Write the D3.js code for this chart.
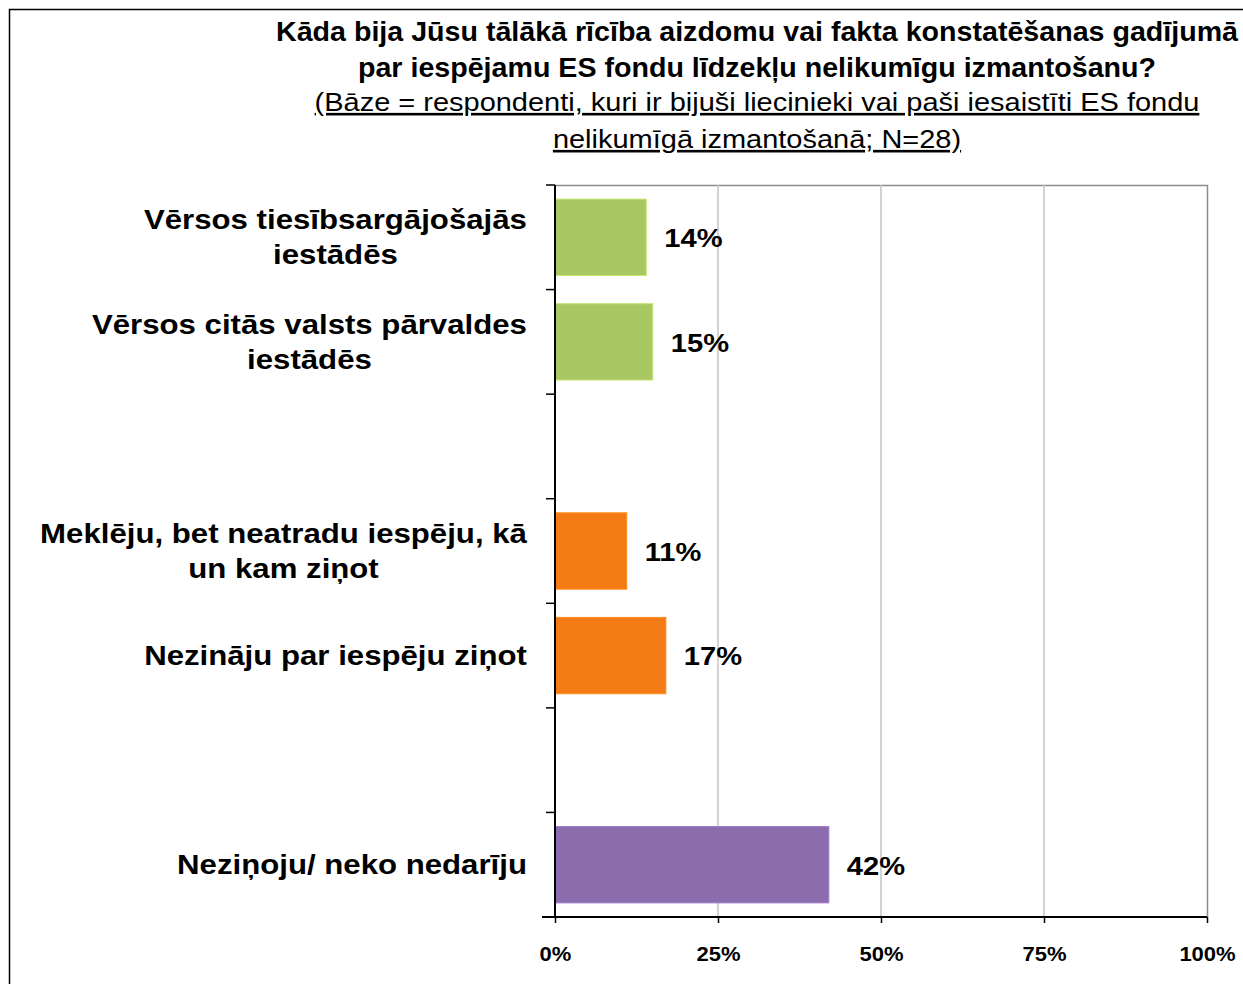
<!DOCTYPE html>
<html>
<head>
<meta charset="utf-8">
<script src="https://cdn.jsdelivr.net/npm/d3@7"></script>
<style>
  html, body { margin: 0; padding: 0; background: #fff; }
  svg { display: block; font-family: "Liberation Sans", Arial, sans-serif; }
</style>
</head>
<body>
<svg id="chart" width="1243" height="984"></svg>
<script>
// Answers in display order; null marks an empty spacer row between groups.
const categories = [
  "Vērsos tiesībsargājošajās\niestādēs",
  "Vērsos citās valsts pārvaldes\niestādēs",
  null,
  "Meklēju, bet neatradu iespēju, kā\nun kam ziņot",
  "Nezināju par iespēju ziņot",
  null,
  "Neziņoju/ neko nedarīju"
];
const values = [14, 15, null, 11, 17, null, 42];
const groups = ["report", "report", null, "blocked", "blocked", null, "none"];
const groupColors = { report: "#a9c864", blocked: "#f37a14", none: "#8b6cad" };
const xTicks = [0, 25, 50, 75, 100];

const titleLines = [
  "Kāda bija Jūsu tālākā rīcība aizdomu vai fakta konstatēšanas gadījumā",
  "par iespējamu ES fondu līdzekļu nelikumīgu izmantošanu?"
];
const subtitleLines = [
  "(Bāze = respondenti, kuri ir bijuši liecinieki vai paši iesaistīti  ES fondu",
  "nelikumīgā izmantošanā; N=28)"
];

const svg = d3.select("#chart");
const plot = { left: 555, right: 1207, top: 185, bottom: 917 };

// Wide-set type: glyphs are stretched horizontally by this factor
const stretch = { title: 1.06, subtitle: 1.115, label: 1.155, value: 1.12, tick: 1.1 };
const placed = (px, py, sx) => `translate(${px},${py}) scale(${sx},1)`;

// Outer frame (runs off the right and bottom edges)
svg.append("rect")
  .attr("x", 9.5).attr("y", 9.5)
  .attr("width", 1400).attr("height", 1200)
  .attr("fill", "none").attr("stroke", "#000").attr("stroke-width", 1.5);

// Title block
const titleX = 757;
svg.append("g").selectAll("text").data(titleLines).join("text")
  .attr("transform", (d, i) => placed(titleX, 41 + i * 36, stretch.title))
  .attr("text-anchor", "middle")
  .attr("font-size", 27).attr("font-weight", "bold").attr("fill", "#000")
  .text(d => d);
svg.append("g").selectAll("text").data(subtitleLines).join("text")
  .attr("transform", (d, i) => placed(titleX, 111 + i * 37, stretch.subtitle))
  .attr("text-anchor", "middle")
  .attr("font-size", 26).attr("fill", "#000")
  .attr("text-decoration", "underline")
  .text(d => d);

// Scales
const x = d3.scaleLinear().domain([0, 100]).range([plot.left, plot.right]);
const y = d3.scaleBand()
  .domain(d3.range(categories.length))
  .range([plot.top, plot.bottom])
  .paddingInner(0.27).paddingOuter(0.135);

// Plot-area border (top/right) and vertical gridlines
svg.append("path")
  .attr("d", `M${plot.left},${plot.top + 0.5}H${plot.right + 0.5}V${plot.bottom}`)
  .attr("fill", "none").attr("stroke", "#8c8c8c").attr("stroke-width", 1.5);
svg.append("g").selectAll("line").data(xTicks.slice(1, -1)).join("line")
  .attr("x1", d => x(d)).attr("x2", d => x(d))
  .attr("y1", plot.top).attr("y2", plot.bottom)
  .attr("stroke", "#c4c4c4").attr("stroke-width", 1.5);

// Bars
const rows = categories.map((c, i) => ({ i, c, v: values[i], g: groups[i] }))
  .filter(d => d.v != null);
svg.append("g").selectAll("rect").data(rows).join("rect")
  .attr("x", x(0)).attr("y", d => y(d.i))
  .attr("width", d => x(d.v) - x(0)).attr("height", y.bandwidth())
  .attr("fill", d => groupColors[d.g])
  .attr("stroke", d => d3.color(groupColors[d.g]).brighter(0.4))
  .attr("stroke-width", 1);

// Value labels
svg.append("g").selectAll("text").data(rows).join("text")
  .attr("transform", d => placed(x(d.v) + 18, y(d.i) + y.bandwidth() / 2, stretch.value))
  .attr("dy", "0.38em")
  .attr("font-size", 26).attr("font-weight", "bold").attr("fill", "#000")
  .text(d => d.v + "%");

// Category axis: ticks at the row boundaries
const slotStep = y.step();
const boundaries = d3.range(categories.length + 1).map(k => plot.top + k * slotStep);
const yAxis = svg.append("g");
yAxis.append("line")
  .attr("x1", plot.left).attr("x2", plot.left)
  .attr("y1", plot.top).attr("y2", plot.bottom)
  .attr("stroke", "#000").attr("stroke-width", 2);
yAxis.selectAll("line.tick").data(boundaries).join("line")
  .attr("class", "tick")
  .attr("x1", plot.left - 9).attr("x2", plot.left)
  .attr("y1", d => d).attr("y2", d => d)
  .attr("stroke", "#000").attr("stroke-width", 1.5);

// Category labels: right-aligned block, lines centred within it
const labelRight = 527;
const labelRows = categories.map((c, i) => ({ i, c })).filter(d => d.c);
labelRows.forEach(d => {
  const lines = d.c.split("\n");
  const g = svg.append("g");
  const texts = g.selectAll("text").data(lines).join("text")
    .attr("dy", "0.35em")
    .attr("font-size", 27).attr("font-weight", "bold").attr("fill", "#000")
    .attr("text-anchor", "middle")
    .text(l => l);
  const widest = d3.max(texts.nodes(), n => n.getComputedTextLength()) * stretch.label;
  const cx = labelRight - widest / 2;
  texts.attr("transform", (l, k) => placed(cx,
    y(d.i) + y.bandwidth() / 2 + (k - (lines.length - 1) / 2) * 35, stretch.label));
});

// Value axis
const xAxis = svg.append("g").attr("transform", `translate(0,${plot.bottom})`)
  .call(d3.axisBottom(x).tickValues(xTicks).tickSize(6).tickPadding(24)
    .tickFormat(d => d + "%"));
xAxis.select(".domain").attr("stroke", "#000").attr("stroke-width", 2)
  .attr("d", `M${plot.left - 13},0H${plot.right}`);
xAxis.selectAll(".tick line").attr("stroke", "#000").attr("stroke-width", 1.5);
// stretched around the tick position so labels stay centred on their ticks
xAxis.selectAll(".tick text")
  .attr("font-family", "'Liberation Sans', Arial, sans-serif")
  .attr("font-size", 20).attr("font-weight", "bold").attr("fill", "#000")
  .attr("transform", `scale(${stretch.tick},1)`);
</script>
</body>
</html>
